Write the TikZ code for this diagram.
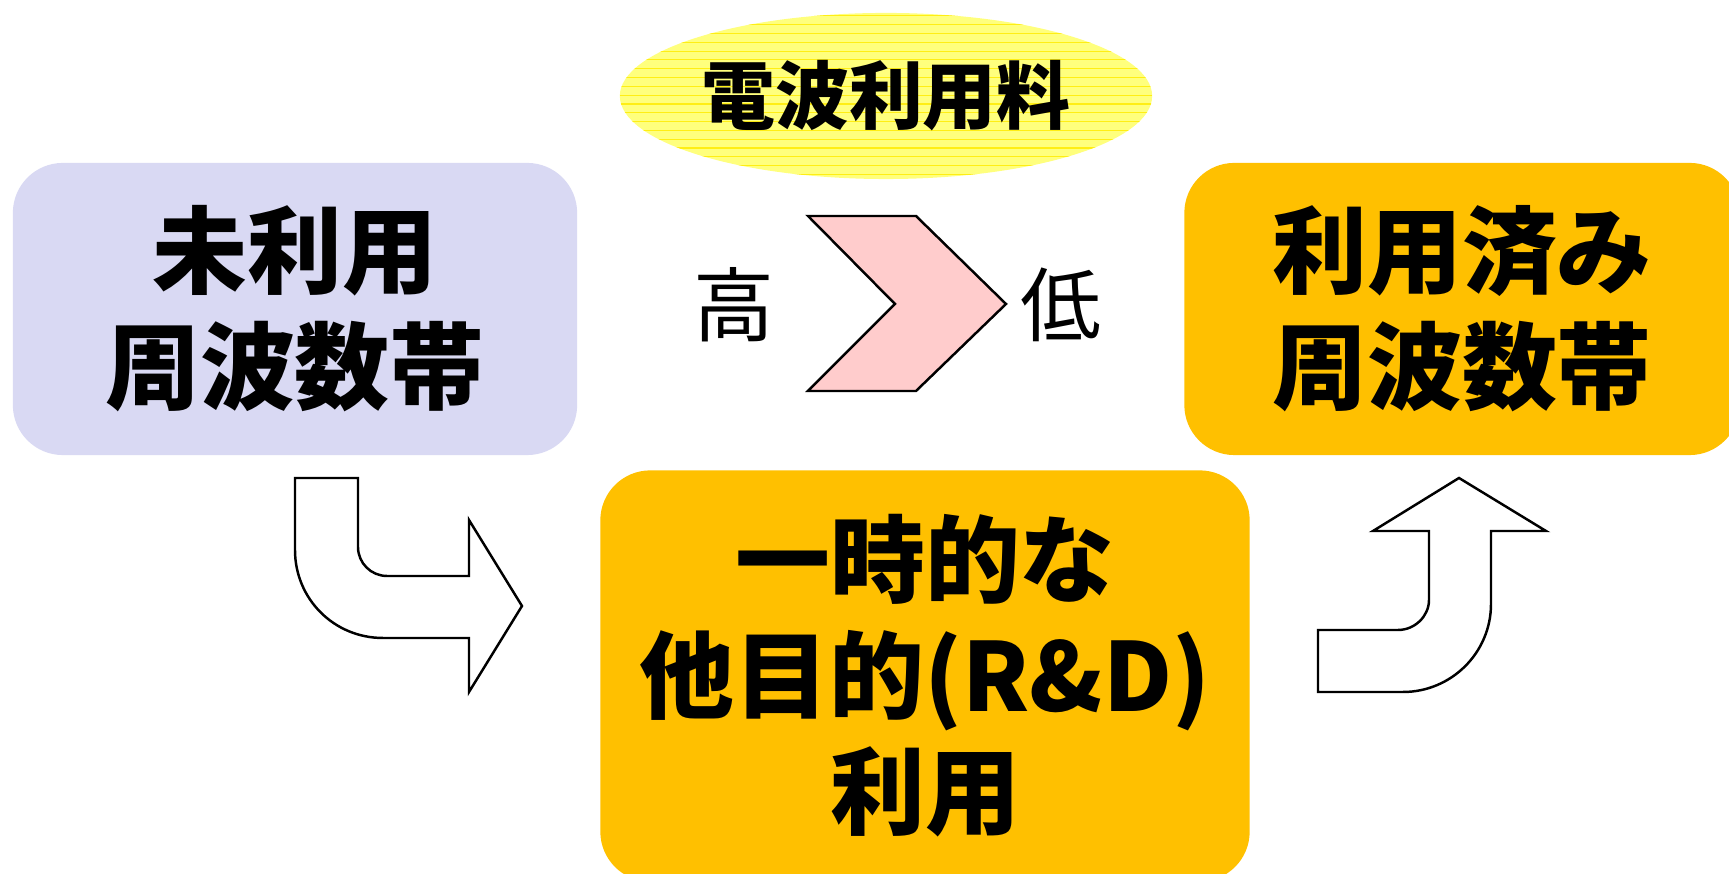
\documentclass[tikz,border=0pt]{standalone}
\usepackage{fontspec}
\newfontfamily\cjk{Noto Sans CJK JP}
\usetikzlibrary{shapes.geometric}
\definecolor{lav}{RGB}{217,217,243}
\definecolor{org}{RGB}{255,192,0}
\definecolor{pnk}{RGB}{255,204,204}
\definecolor{ylw}{RGB}{255,255,125}
\definecolor{ylwline}{RGB}{255,238,20}
\tikzset{
  box/.style={rounded corners=0.5cm, inner sep=0pt, align=center,
    font=\cjk\bfseries\fontsize{27}{33}\selectfont},
  shape line/.style={draw=black, line width=0.7pt, line join=miter},
  lbl/.style={font=\cjk\fontsize{23}{27}\selectfont, inner sep=0pt},
}
\begin{document}
\begin{tikzpicture}[x=0.01cm, y=-0.01cm]
\useasboundingbox (0,0) rectangle (1729,874);
% boxes
\node[box, fill=lav, minimum width=5.64cm, minimum height=2.92cm] (unused) at (295,309) {未利用\\周波数帯};
\node[box, fill=org, minimum width=5.55cm, minimum height=2.92cm] (used) at (1462,309) {利用済み\\周波数帯};
\node[box, fill=org, minimum width=6.49cm, minimum height=4.11cm] (temp) at (925,676) {一時的な\\他目的(R\&D)\\利用};
% ellipse
\node[ellipse, minimum width=5.32cm, minimum height=1.66cm, inner sep=0pt, fill=ylw,
  font=\cjk\bfseries\fontsize{21}{25}\selectfont,
  path picture={\foreach \k in {0,...,19}
    \draw[ylwline, line width=0.3pt] ([yshift=-\k*0.88mm-0.3mm]path picture bounding box.north west) -- ([yshift=-\k*0.88mm-0.3mm]path picture bounding box.north east);}
  ] (fee) at (886,96) {電波利用料};
% chevron
\draw[shape line, fill=pnk] (808,216) -- (916,216) -- (1006,304) -- (916,391) -- (808,391) -- (895,304) -- cycle;
\node[lbl] (high) at (734,305) {高};
\node[lbl] (low) at (1061,305) {低};
% left bent arrow
\draw[shape line, fill=white] (295,478) -- (358,478) -- (358,547)
  .. controls (358,563) and (371,576) .. (387,576) -- (469,576) -- (469,520)
  -- (522,606) -- (469,692) -- (469,638) -- (383,638)
  .. controls (334,638) and (295,599) .. (295,550) -- cycle;
% right bent arrow
\draw[shape line, fill=white] (1318,630) -- (1398,630)
  .. controls (1415,630) and (1429,616) .. (1429,600) -- (1429,531) -- (1373,531)
  -- (1459,478) -- (1546,531) -- (1491,531) -- (1491,604)
  .. controls (1491,653) and (1451,692) .. (1403,692) -- (1318,692) -- cycle;
\end{tikzpicture}
\end{document}
